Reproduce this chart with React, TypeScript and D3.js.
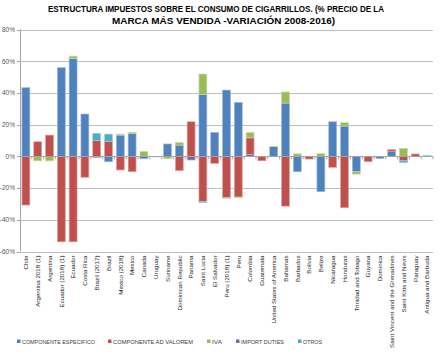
import React from "react";
import * as d3 from "d3";

const categories = [
  "Chile", "Argentina 2018 (1)", "Argentina", "Ecuador (2018) (1)", "Ecuador", "Costa Rica",
  "Brazil (2017)", "Brazil", "Mexico (2018)", "Mexico", "Canada", "Uruguay", "Suriname",
  "Dominican Republic", "Panama", "Saint Lucia", "El Salvador", "Peru (2018) (1)", "Peru",
  "Colombia", "Guatemala", "United States of America", "Bahamas", "Barbados", "Bolivia",
  "Belize", "Nicaragua", "Honduras", "Trinidad and Tobago", "Guyana", "Dominica",
  "Saint Vincent and the Grenadines", "Saint Kitts and Nevis", "Paraguay", "Antigua and Barbuda",
];

const especifico = [43.3, 0, 0, 55.9, 61.8, 26.7, -0.8, -3.4, 13.4, 14.5, -1.5, -0.3, 7.8, 7.1, 0, 39.1, 15.1, 41.8, 34, 1.3, 0, 6.1, 33.6, -9.7, 0, -22.3, 21.8, 19.1, -9.7, 0, -1.3, 3, 0, 0, 0];
const adValorem = [-30.7, 9.2, 13.4, -53.9, -53.9, -13.2, 10.1, 9.5, -8.6, -9.7, 0, 0, 0, -9, 21.8, -28.6, -4.4, -26.1, -25.7, 10.4, -2.8, 0, -31.4, 0, -1.7, 0, -6.9, -32.4, 0, -3.4, 0, 1.2, -2.8, 1.5, 0];
const iva = [0, -2.8, -2.8, 0, 1.4, 0, 0, 0, 0.6, 0.7, 3, 0, -1.5, 1.7, 0, 12.8, 0, -0.5, -0.4, 3.4, 0, 0.3, 7, 1.6, 0, 1.8, 0, 2.1, -1.5, 0, 0, 0, 5, 0, 0];
const importDuties = [0, 0, 0, 0, 0, 0, 0, 0, 0, 0, 0, 0, 0, 0, -2.3, 0, 0, 0, 0, 0, 0, 0, 0, 0, 0, 0, 0, 0, 0, 0, 0, 0, 0, 0, 0];
const otros = [0, 0, 0, 0, 0, 0, 4.4, 4.5, 0, 0, 0, 0, 0, 0, 0, -0.6, 0, 0, 0, 0, 0, 0, 0, 0, 0, 0, 0, 0, 0, 0, 0, 0, -1.2, 0, 0.5];

const seriesNames = ["COMPONENTE ESPECIFICO", "COMPONENTE AD VALOREM", "IVA", "IMPORT DUTIES", "OTROS"];
const seriesValues = [especifico, adValorem, iva, importDuties, otros];
const seriesColors = ["#4F81BD", "#C0504D", "#9BBB59", "#8064A2", "#4BACC6"];
const strokeColors = ["#9DB9DC", "#E0A3A1", "#C9DCA5", "#B3A3C9", "#9AD1E0"];
const yTicks = [80, 60, 40, 20, 0, -20, -40, -60];
const titleLines = [
  "ESTRUCTURA IMPUESTOS SOBRE EL CONSUMO DE CIGARRILLOS. (% PRECIO DE LA",
  "MARCA MÁS VENDIDA -VARIACIÓN 2008-2016)",
];

export default function App() {
  const W = 441, H = 355;
  const left = 20, right = 433, top = 29.5, bottom = 251.5;

  const x = d3.scaleBand<string>().domain(categories).range([left, right]).paddingInner(0.33).paddingOuter(0.165);
  const y = d3.scaleLinear().domain([-60, 80]).range([bottom, top]);

  const rows = categories.map((c, i) => {
    const r: any = { cat: c };
    seriesNames.forEach((s, k) => (r[s] = seriesValues[k][i]));
    return r;
  });
  const stacked = d3.stack<any>().keys(seriesNames).offset(d3.stackOffsetDiverging)(rows);

  const legendX = [17, 108, 207, 236, 298];
  const legendLen = [73, 80, 10, 43, 19];

  return (
    <div style={{ position: "absolute", left: 0, top: 0 }}>
      <svg width={W} height={H} style={{ display: "block", background: "#fff" }} fontFamily="'Liberation Sans', Arial, sans-serif">
        {titleLines.map((t, i) => (
          <text key={i} x={i === 0 ? 48 : 112} y={i === 0 ? 11.5 : 23.5} fontSize={9.4} fontWeight="bold" fill="#000"
            textLength={i === 0 ? 336 : 223} lengthAdjust="spacingAndGlyphs">{t}</text>
        ))}
        {yTicks.map((t) => (
          <g key={t}>
            <line x1={left} x2={right} y1={Math.round(y(t)) + 0.5} y2={Math.round(y(t)) + 0.5} stroke="#BFBFBF" strokeWidth={1} />
            <line x1={left - 3} x2={left} y1={Math.round(y(t)) + 0.5} y2={Math.round(y(t)) + 0.5} stroke="#A6A6A6" />
            <text x={15} y={y(t) + 2.3} fontSize={6.5} textAnchor="end" fill="#595959">{t}%</text>
          </g>
        ))}
        <line x1={left + 0.5} x2={left + 0.5} y1={top} y2={bottom} stroke="#A6A6A6" />
        {stacked.map((layer, k) => (
          <g key={k}>
            {layer.map((d, i) => {
              const y0 = y(d[0]), y1 = y(d[1]);
              const h = Math.abs(y0 - y1);
              if (h < 0.2) return null;
              return (
                <rect key={i} x={x(categories[i])} width={x.bandwidth()} y={Math.min(y0, y1)} height={h}
                  fill={seriesColors[k]} stroke={strokeColors[k]} strokeWidth={0.7} />
              );
            })}
          </g>
        ))}
        <line x1={left} x2={right} y1={Math.round(y(0)) + 0.5} y2={Math.round(y(0)) + 0.5} stroke="#A6A6A6" />
        {categories.map((c, i) => {
          const cx = (x(c) as number) + x.bandwidth() / 2;
          return (
            <g key={c}>
              <line x1={left + x.step() * (i + 1)} x2={left + x.step() * (i + 1)} y1={y(0)} y2={y(0) + 3} stroke="#A6A6A6" />
              <text transform={`translate(${cx + 2.2},${bottom + 4}) rotate(-90)`} fontSize={6.2} textAnchor="end" fill="#262626">{c}</text>
            </g>
          );
        })}
        {seriesNames.map((s, k) => (
          <g key={s}>
            <rect x={legendX[k]} y={339.5} width={3.5} height={3.5} fill={seriesColors[k]} />
            <text x={legendX[k] + 5} y={343.5} fontSize={6.2} fill="#404040" textLength={legendLen[k]} lengthAdjust="spacingAndGlyphs">{s}</text>
          </g>
        ))}
      </svg>
    </div>
  );
}
